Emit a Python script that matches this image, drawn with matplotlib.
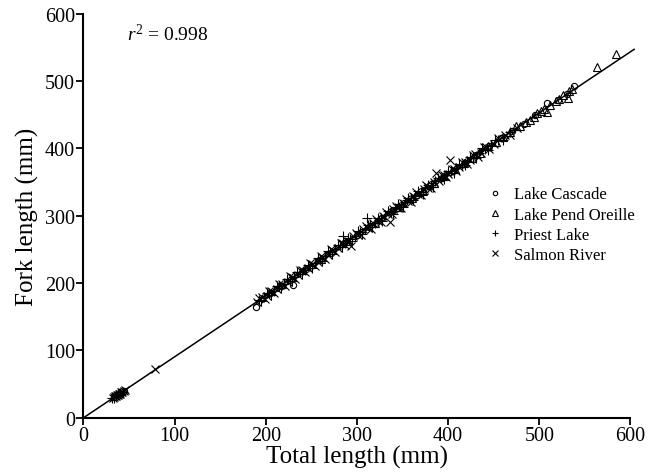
import numpy as np
import matplotlib
matplotlib.use("Agg")
import matplotlib.pyplot as plt

plt.rcParams['font.family'] = ['Liberation Serif', 'DejaVu Serif']
plt.rcParams['mathtext.fontset'] = 'custom'
plt.rcParams['mathtext.rm'] = 'Liberation Serif'
plt.rcParams['mathtext.it'] = 'Liberation Serif:italic'

# Salmon River (x)
salmon_tl = [32, 34, 35, 36, 37, 38, 39, 40, 41, 42, 44, 46, 79,
             190, 196, 201, 206, 212, 218, 224, 229, 235, 240, 246, 251, 257, 262,
             268, 273, 279, 284, 290, 293, 296, 301, 307, 312, 318, 323, 329, 334,
             336, 340, 345, 351, 356, 362, 367, 373, 378, 384, 387, 390, 395, 400,
             402, 406, 412, 418, 424, 430, 436, 442, 450, 462, 475,
             193, 199, 204, 209, 215, 221, 227, 232, 238, 243, 249, 254, 260, 265,
             271, 276, 282, 287, 299, 304, 310, 315, 321, 326, 332, 338, 343, 348,
             354, 359, 365, 370, 376, 381, 393, 398, 404, 409, 415, 421, 427, 433,
             439, 445, 455, 468]
salmon_fl = [29, 31, 32, 33, 34, 34, 36, 36, 38, 38, 40, 42, 72,
             172, 179, 181, 188, 191, 199, 202, 209, 212, 219, 222, 229, 232, 239,
             242, 249, 252, 259, 262, 255, 270, 272, 280, 282, 290, 292, 300, 302,
             291, 310, 312, 319, 322, 330, 332, 340, 342, 350, 364, 352, 360, 362,
             383, 370, 372, 380, 383, 392, 394, 402, 406, 420, 430,
             178, 176, 189, 185, 199, 196, 210, 206, 220, 216, 230, 226, 240, 236,
             250, 246, 259, 256, 275, 271, 285, 281, 295, 291, 305, 302, 315, 311,
             325, 321, 335, 331, 345, 341, 360, 357, 370, 367, 380, 377, 391, 388,
             402, 399, 416, 420]

# Priest Lake (+)
priest_tl = [31, 33, 36, 38, 40, 43,
             192, 198, 203, 209, 214, 220, 226, 231, 237, 243, 248, 254, 259, 265,
             270, 276, 281, 285, 287, 292, 298, 303, 309, 311, 314, 320, 326, 331,
             337, 342, 348, 353, 359, 364, 370, 375, 381, 386, 392, 398, 403, 409,
             415, 421, 427, 434, 440, 447, 455, 468,
             195, 201, 206, 212, 217, 223, 229, 234, 240, 246, 251, 257, 262, 268,
             273, 279, 284, 290, 295, 301, 306, 312, 317, 323, 328, 334, 339, 345,
             350, 356, 361, 367, 372, 378, 383, 389, 395, 400, 406, 412, 418, 424,
             431, 437, 444, 451, 460]
priest_fl = [29, 30, 34, 35, 37, 39,
             175, 180, 185, 189, 195, 199, 206, 209, 216, 220, 226, 230, 236, 240,
             246, 250, 256, 270, 260, 266, 270, 276, 280, 297, 286, 290, 296, 301,
             306, 311, 316, 321, 326, 330, 336, 341, 346, 351, 356, 361, 366, 371,
             376, 382, 387, 394, 399, 405, 413, 424,
             173, 186, 183, 196, 193, 206, 203, 216, 213, 227, 223, 237, 233, 247,
             243, 257, 253, 267, 263, 277, 273, 287, 283, 297, 293, 307, 303, 317,
             313, 327, 323, 337, 333, 346, 343, 356, 354, 366, 364, 377, 375, 388,
             386, 400, 398, 413, 413]

# Lake Cascade (o)
cascade_tl = [34, 39, 44,
              189, 205, 217, 230, 244, 258, 271, 286, 300, 313, 327, 340, 352, 366,
              379, 393, 405, 418, 431, 445, 458, 470, 483, 495, 508, 520, 530, 538]
cascade_fl = [31, 35, 40,
              165, 186, 196, 197, 221, 234, 245, 259, 271, 284, 296, 308, 319, 331,
              344, 356, 367, 379, 391, 403, 415, 426, 437, 449, 467, 472, 481, 493]

# Lake Pend Oreille (triangles)
pend_tl = [260, 290, 320, 345, 360, 372, 385, 396, 408, 417, 426, 435, 444, 452,
           460, 468, 474, 479, 485, 490, 494, 498, 502, 505, 508, 512, 518, 522,
           526, 531, 533, 536, 563, 584]
pend_fl = [236, 263, 289, 313, 326, 337, 349, 359, 370, 378, 386, 394, 403, 410,
           417, 424, 433, 434, 440, 443, 447, 452, 456, 459, 454, 464, 471, 473,
           480, 475, 486, 488, 521, 540]

fit_x = [0, 604]
fit_slope = 0.906

fig = plt.figure(figsize=(6.52, 4.77), dpi=100)
ax = fig.add_axes([0.128, 0.122, 0.839, 0.847])

ax.plot(fit_x, [fit_slope * v for v in fit_x], color='black', lw=1.1, clip_on=False, zorder=1)

mk = dict(linestyle='none', color='black', markerfacecolor='none', markeredgewidth=0.8)
ax.plot(cascade_tl, cascade_fl, marker='o', markersize=4.5, label='Lake Cascade', **mk)
ax.plot(pend_tl, pend_fl, marker='^', markersize=5.5, label='Lake Pend Oreille', **mk)
ax.plot(priest_tl, priest_fl, marker='+', markersize=7, label='Priest Lake', **mk)
ax.plot(salmon_tl, salmon_fl, marker='x', markersize=5.5, label='Salmon River', **mk)

ax.set_xlim(0, 600)
ax.set_ylim(0, 600)
ax.set_xticks(range(0, 601, 100))
ax.set_yticks(range(0, 601, 100))
ax.spines['top'].set_visible(False)
ax.spines['right'].set_visible(False)
for s in ('left', 'bottom'):
    ax.spines[s].set_linewidth(1.5)
ax.tick_params(direction='out', length=5, width=1.3, labelsize=14.5, pad=1)

ax.set_xlabel('Total length (mm)', fontsize=18, labelpad=0)
ax.set_ylabel('Fork length (mm)', fontsize=18, labelpad=4)

ax.text(0.08, 0.95, '$r^2$ = 0.998', transform=ax.transAxes, fontsize=14,
        ha='left', va='center')

leg = ax.legend(loc='upper left', bbox_to_anchor=(0.71, 0.61), frameon=False,
                fontsize=12, handlelength=1.0, handletextpad=0.6, labelspacing=0.25,
                markerscale=0.7)

fig.savefig('out.png', dpi=100)
